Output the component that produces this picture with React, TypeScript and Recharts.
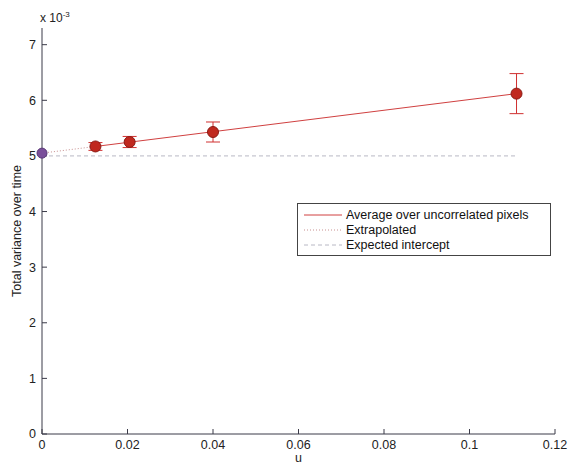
import React from "react";
import {
  ComposedChart,
  Line,
  Scatter,
  ErrorBar,
  XAxis,
  YAxis,
  Legend,
} from "recharts";

// Measured points (u, total variance in units of 1e-3)
const uValues = [0.0125, 0.0205, 0.04, 0.111];
const varianceValues = [5.17, 5.25, 5.43, 6.12];
const errorValues = [0.07, 0.1, 0.18, 0.36];

// Extrapolated intercept at u = 0
const interceptU = [0];
const interceptValue = [5.05];

// Linear fit end points
const fitU = [0.0125, 0.111];
const fitValues = [5.17, 6.12];

// Expected intercept line
const expectedU = [0, 0.111];
const expectedValues = [5.0, 5.0];

const xTicks = [0, 0.02, 0.04, 0.06, 0.08, 0.1, 0.12];
const yTicks = [0, 1, 2, 3, 4, 5, 6, 7];

const legendItems = [
  { label: "Average over uncorrelated pixels", color: "#d04040", dash: "" },
  { label: "Extrapolated", color: "#c89090", dash: "1 2" },
  { label: "Expected intercept", color: "#b8b8c4", dash: "4 3" },
];

const points = uValues.map((u, i) => ({ u, v: varianceValues[i], err: errorValues[i] }));
const intercept = interceptU.map((u, i) => ({ u, v: interceptValue[i] }));
const fitLine = fitU.map((u, i) => ({ u, v: fitValues[i] }));
const extrapolated = [intercept[0], fitLine[0]];
const expected = expectedU.map((u, i) => ({ u, v: expectedValues[i] }));

const FONT = "'Liberation Sans', Arial, sans-serif";
const AXIS = "#3a3a48";
const tickStyle = { fontSize: 12.5, fill: "#222", fontFamily: FONT };

const LegendBox = () => (
  <div
    style={{
      border: "1px solid #444",
      background: "#fff",
      padding: "3px 6px 3px 6px",
      fontFamily: FONT,
      fontSize: 12.5,
      color: "#111",
      width: 240,
    }}
  >
    {legendItems.map((item) => (
      <div key={item.label} style={{ display: "flex", alignItems: "center", height: 15 }}>
        <svg width={38} height={10} style={{ marginRight: 4 }}>
          <line
            x1={0}
            x2={38}
            y1={5}
            y2={5}
            stroke={item.color}
            strokeWidth={1}
            strokeDasharray={item.dash}
          />
        </svg>
        <span>{item.label}</span>
      </div>
    ))}
  </div>
);

const Dot = (color: string, edge: string, r: number) => (props: any) => (
  <circle cx={props.cx} cy={props.cy} r={r} fill={color} stroke={edge} strokeWidth={1} />
);

export default function App() {
  return (
    <div
      style={{
        position: "absolute",
        left: 0,
        top: 0,
        width: 569,
        height: 465,
        background: "#fff",
      }}
    >
      <div
        style={{
          position: "absolute",
          left: 40,
          top: 10,
          fontFamily: FONT,
          fontSize: 12,
          color: "#222",
        }}
      >
        x 10<sup style={{ fontSize: 8 }}>-3</sup>
      </div>
      <ComposedChart
        width={569}
        height={465}
        margin={{ top: 28, right: 14, bottom: 0, left: 0 }}
      >
        <XAxis
          type="number"
          dataKey="u"
          domain={[0, 0.12]}
          ticks={xTicks}
          interval={0}
          tickFormatter={(v) => String(+Number(v).toFixed(2))}
          tick={tickStyle}
          stroke={AXIS}
          tickSize={-5}
          tickMargin={11}
          height={31}
          label={{ value: "u", position: "insideBottom", offset: 3, style: tickStyle }}
        />
        <XAxis
          xAxisId="top"
          orientation="top"
          type="number"
          domain={[0, 0.12]}
          ticks={xTicks}
          interval={0}
          tickFormatter={() => ""}
          stroke={AXIS}
          tickSize={-5}
          height={0}
        />
        <YAxis
          type="number"
          domain={[0, 7.3]}
          ticks={yTicks}
          interval={0}
          tick={tickStyle}
          stroke={AXIS}
          tickSize={-5}
          tickMargin={11}
          width={42}
          label={{
            value: "Total variance over time",
            angle: -90,
            position: "center",
            dx: -4,
            style: { ...tickStyle, textAnchor: "middle" },
          }}
        />
        <YAxis
          yAxisId="right"
          orientation="right"
          type="number"
          domain={[0, 7.3]}
          ticks={yTicks}
          interval={0}
          tickFormatter={() => ""}
          stroke={AXIS}
          tickSize={-5}
          width={0}
        />
        <Line
          data={expected}
          dataKey="v"
          stroke="#b8b8c4"
          strokeWidth={1}
          strokeDasharray="4 3"
          dot={false}
          isAnimationActive={false}
        />
        <Line
          data={extrapolated}
          dataKey="v"
          stroke="#c89090"
          strokeWidth={1}
          strokeDasharray="1 2"
          dot={false}
          isAnimationActive={false}
        />
        <Line
          data={fitLine}
          dataKey="v"
          stroke="#d04040"
          strokeWidth={1}
          dot={false}
          isAnimationActive={false}
        />
        <Scatter
          data={points}
          dataKey="v"
          shape={Dot("#c0281e", "#8a1a14", 5.5)}
          isAnimationActive={false}
        >
          <ErrorBar dataKey="err" direction="y" width={7} stroke="#d03030" strokeWidth={1} />
        </Scatter>
        <Scatter
          data={intercept}
          dataKey="v"
          shape={Dot("#7a4f9a", "#5a3a78", 5)}
          isAnimationActive={false}
        />
        <Legend
          layout="horizontal"
          verticalAlign="middle"
          align="center"
          content={<LegendBox />}
          wrapperStyle={{ left: 297, top: 203, width: 254 }}
        />
      </ComposedChart>
    </div>
  );
}
